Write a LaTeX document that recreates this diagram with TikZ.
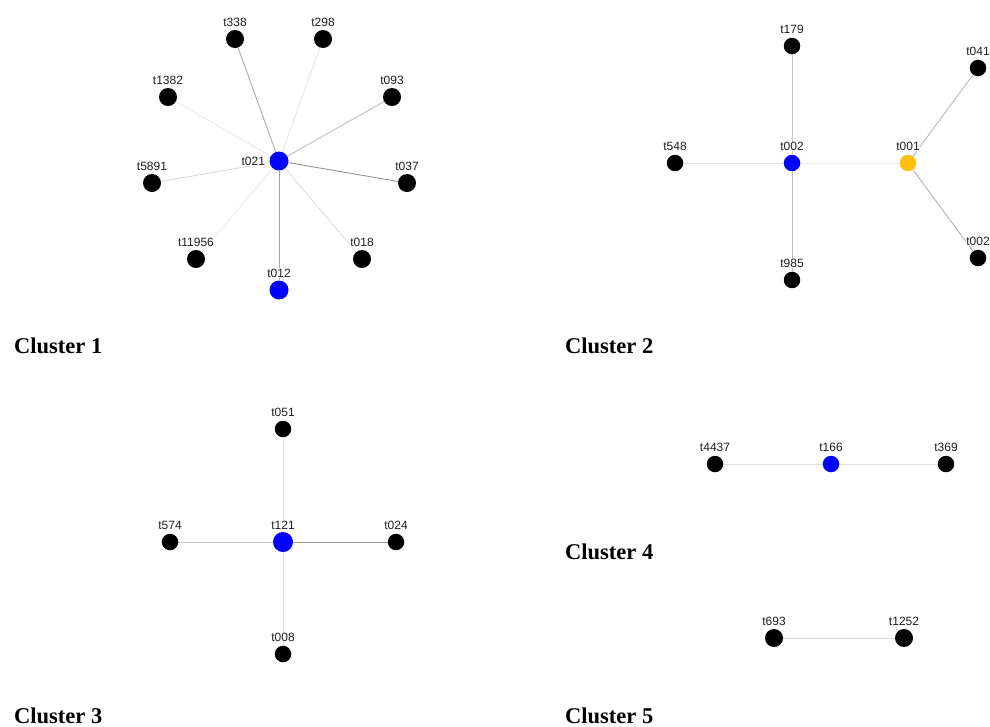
\documentclass[tikz,border=0pt]{standalone}
\usepackage{fontspec}
\usetikzlibrary{backgrounds}
\setmainfont{Liberation Sans}
\newfontfamily\titlefont{Liberation Serif}
\begin{document}
\begin{tikzpicture}[x=1pt,y=-1pt,
  nd/.style={circle,fill=black,inner sep=0pt,minimum size=18pt},
  ndb/.style={circle,fill=blue,inner sep=0pt,minimum size=19pt},
  ndy/.style={circle,fill=gold,inner sep=0pt,minimum size=18pt},
  sm/.style={minimum size=16.5pt},
  lab/.style={font=\fontsize{12}{12}\selectfont,text=black!88,fill=white,inner sep=0.6pt},
  ttl/.style={font=\titlefont\bfseries\fontsize{22.5}{24}\selectfont,anchor=base west,inner sep=0pt},
  e/.style={line width=0.9pt,draw=black!#1},
]
\definecolor{gold}{HTML}{FAC00C}
\useasboundingbox (0,0) rectangle (990,726);

% ---------- Cluster 1 ----------
\node[ndb] (t021) at (279,161) {};
\node[nd] (t338) at (235,39) {};
\node[nd] (t298) at (323,39) {};
\node[nd] (t093) at (392,97) {};
\node[nd] (t1382) at (168,97) {};
\node[nd] (t5891) at (152,183) {};
\node[nd] (t037) at (407,183) {};
\node[nd] (t11956) at (196,259) {};
\node[nd] (t018) at (362,259) {};
\node[ndb] (t012) at (279,290) {};
\foreach \n/\l in {t338/t338,t298/t298,t093/t093,t1382/t1382,t5891/t5891,t037/t037,t11956/t11956,t018/t018,t012/t012}
  \node[lab,anchor=base] (L\n) at ([yshift=13pt]\n.center) {\l};
\node[lab,anchor=east] (Lt021) at ([xshift=-3.5pt]t021.west) {t021};

% ---------- Cluster 2 ----------
\node[ndb,sm] (t002) at (792,163) {};
\node[nd,sm] (t179) at (792,46) {};
\node[nd,sm] (t548) at (675,163) {};
\node[ndy,sm] (t001) at (908,163) {};
\node[nd,sm] (t985) at (792,280) {};
\node[nd,sm] (t041) at (978,68) {};
\node[nd,sm] (t002b) at (978,258) {};
\foreach \n/\l in {t002/t002,t179/t179,t548/t548,t001/t001,t985/t985,t041/t041,t002b/t002}
  \node[lab,anchor=base] (L\n) at ([yshift=12.5pt]\n.center) {\l};

% ---------- Cluster 3 ----------
\node[ndb,minimum size=20pt] (t121) at (283,542) {};
\node[nd,sm] (t051) at (283,429) {};
\node[nd,sm] (t574) at (170,542) {};
\node[nd,sm] (t024) at (396,542) {};
\node[nd,sm] (t008) at (283,654) {};
\foreach \n/\l in {t121/t121,t051/t051,t574/t574,t024/t024,t008/t008}
  \node[lab,anchor=base] (L\n) at ([yshift=12.5pt]\n.center) {\l};

% ---------- Cluster 4 ----------
\node[nd,sm] (t4437) at (715,464) {};
\node[ndb,sm] (t166) at (831,464) {};
\node[nd,sm] (t369) at (946,464) {};
\foreach \n/\l in {t4437/t4437,t166/t166,t369/t369}
  \node[lab,anchor=base] (L\n) at ([yshift=12.5pt]\n.center) {\l};

% ---------- Cluster 5 ----------
\node[nd] (t693) at (774,638) {};
\node[nd] (t1252) at (904,638) {};
\foreach \n/\l in {t693/t693,t1252/t1252}
  \node[lab,anchor=base] (L\n) at ([yshift=13pt]\n.center) {\l};

% ---------- edges ----------
\begin{scope}[on background layer]
\draw[e=32] (t021) -- (t338);
\draw[e=10] (t021) -- (t298);
\draw[e=25] (t021) -- (t093);
\draw[e=9] (t021) -- (t1382);
\draw[e=15] (t021) -- (t5891);
\draw[e=42] (t021) -- (t037);
\draw[e=8] (t021) -- (t11956);
\draw[e=13] (t021) -- (t018);
\draw[e=35] (t021) -- (t012);

\draw[e=22] (t002) -- (t179);
\draw[e=12] (t002) -- (t548);
\draw[e=7] (t002) -- (t001);
\draw[e=25] (t002) -- (t985);
\draw[e=28] (t001) -- (t041);
\draw[e=30] (t001) -- (t002b);

\draw[e=9] (t121) -- (t051);
\draw[e=22] (t121) -- (t574);
\draw[e=40] (t121) -- (t024);
\draw[e=15] (t121) -- (t008);

\draw[e=12] (t4437) -- (t166);
\draw[e=12] (t166) -- (t369);
\draw[e=15] (t693) -- (t1252);
\end{scope}

% ---------- titles ----------
\node[ttl] (c1) at (14,353) {Cluster 1};
\node[ttl] (c2) at (565,353) {Cluster 2};
\node[ttl] (c3) at (14,723) {Cluster 3};
\node[ttl] (c4) at (565,559) {Cluster 4};
\node[ttl] (c5) at (565,723) {Cluster 5};
\end{tikzpicture}
\end{document}
